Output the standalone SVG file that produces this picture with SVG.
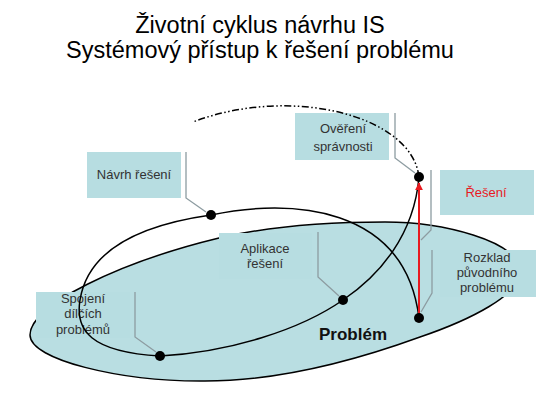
<svg xmlns="http://www.w3.org/2000/svg" width="540" height="405" viewBox="0 0 540 405">
<defs>
<style>
.title{font-family:"Liberation Sans",Arial,sans-serif;font-size:23.5px;fill:#000;text-anchor:middle}
.lbl{font-family:"Liberation Sans",Arial,sans-serif;font-size:13px;fill:#333;text-anchor:middle}
.box{fill:#b7dde1;stroke:none}
.lead{fill:none;stroke:#8d9ca1;stroke-width:1.3}
.curve{fill:none;stroke:#000;stroke-width:1.5}
.dot{fill:#000}
</style>
<marker id="arr" viewBox="0 0 10 10" refX="9" refY="5" markerWidth="4" markerHeight="4" orient="auto" markerUnits="strokeWidth">
<path d="M0,0 L10,5 L0,10 z" fill="#e8191f"/>
</marker>
</defs>
<rect width="540" height="405" fill="#fff"/>
<g id="title">
<text class="title" x="260" y="33">Životní cyklus návrhu IS</text>
<text class="title" x="260" y="58">Systémový přístup k řešení problému</text>
</g>
<g id="problem">
<path d="M30,335 C30,305 120,262 219,238 C270,226 330,222 385,222 C440,222 520,240 520,272 C520,295 470,320 420,337 C365,357 280,382 200,381 C120,381 30,360 30,335 Z" fill="#b9dee2" stroke="#000" stroke-width="1.5"/>
<text x="353" y="340" font-family="Liberation Sans,Arial,sans-serif" font-size="17" font-weight="bold" fill="#111" text-anchor="middle">Problém</text>
</g>
<g id="navrh">
<rect class="box" x="87" y="152" width="94" height="46"/>
<text class="lbl" x="134" y="179">Návrh řešení</text>
</g>
<g id="overeni">
<rect class="box" x="295" y="113" width="94" height="47"/>
<text class="lbl" x="343" y="133">Ověření</text>
<text class="lbl" x="343" y="151">správnosti</text>
</g>
<g id="reseni">
<rect class="box" x="440" y="170" width="94" height="45"/>
<text class="lbl" x="486" y="197" style="fill:#e8191f">Řešení</text>
</g>
<g id="rozklad">
<rect class="box" x="440" y="250" width="96" height="47"/>
<text class="lbl" x="487" y="262">Rozklad</text>
<text class="lbl" x="487" y="277">původního</text>
<text class="lbl" x="487" y="292">problému</text>
</g>
<g id="aplikace">
<rect class="box" x="219" y="233" width="93" height="46"/>
<text class="lbl" x="265" y="253">Aplikace</text>
<text class="lbl" x="265" y="268">řešení</text>
</g>
<g id="spojeni">
<rect class="box" x="36" y="292" width="94" height="46"/>
<text class="lbl" x="83" y="303">Spojení</text>
<text class="lbl" x="83" y="318">dílčích</text>
<text class="lbl" x="83" y="334">problémů</text>
</g>
<g id="connectors">
<path class="lead" d="M186,152 V198 L206,212"/>
<path class="lead" d="M395,113 V158 L415,173"/>
<path class="lead" d="M431,170 V230 L421,240"/>
<path class="lead" d="M432,250 V293 L421,312"/>
<path class="lead" d="M318,232 V277 L339,296"/>
<path class="lead" d="M135,292 V337 L156,352"/>
<path class="curve" d="M211,215 C290,198 405,205 419,318"/>
<path class="curve" d="M211,215 C140,225 88,250 80,300 C75,330 90,352 160,356"/>
<path class="curve" d="M160,356 C230,352 300,330 343,300 C380,275 414,235 419,177"/>
<path class="curve" d="M419,177 C412,115 290,85 193,122" stroke-dasharray="7,2.5,1.5,2.5,1.5,2.5"/>
<line x1="419" y1="318" x2="419" y2="183" stroke="#e8191f" stroke-width="2" marker-end="url(#arr)"/>
</g>
<g id="dots">
<circle class="dot" cx="211" cy="215" r="5"/>
<circle class="dot" cx="343" cy="300" r="5"/>
<circle class="dot" cx="419" cy="318" r="5"/>
<circle class="dot" cx="419" cy="177" r="5"/>
<circle class="dot" cx="160" cy="356" r="5"/>
</g>
</svg>
